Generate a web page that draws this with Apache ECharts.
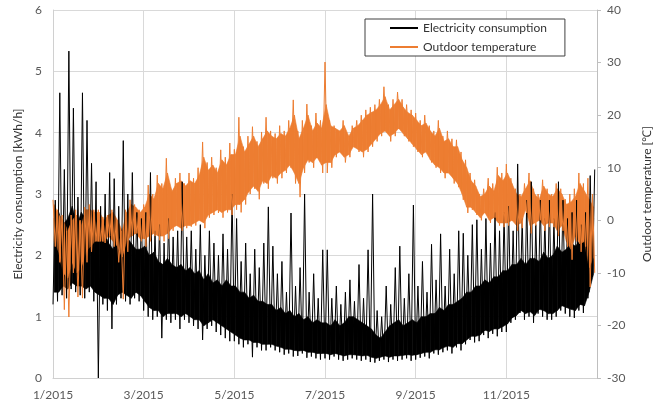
<!DOCTYPE html>
<html>
<head>
<meta charset="utf-8">
<script src="https://cdn.jsdelivr.net/npm/echarts@6/dist/echarts.min.js"></script>
<style>
  html, body { margin: 0; padding: 0; background: #fff; }
  #chart { width: 669px; height: 408px; }
</style>
</head>
<body>
<div id="chart"></div>
<script>
// values, 10 samples per month (Jan..Dec)
// lo/hi = extreme readings in the sample, base/body = edges of the dense part
var elecLo = [
  1.2, 1.25, 1.35, 1.3, 1.45, 1.4, 1.35, 1.3, 1.4, 1.25,
  0.0, 1.2, 1.1, 0.8, 1.2, 1.3, 1.25, 1.2, 1.3, 1.25,
  1.1, 1.0, 0.95, 1.0, 0.65, 0.95, 0.9, 0.95, 0.8, 0.95,
  0.9, 0.85, 0.8, 0.62, 0.8, 0.85, 0.75, 0.7, 0.65, 0.6,
  0.6, 0.55, 0.5, 0.55, 0.34, 0.5, 0.45, 0.45, 0.5, 0.45,
  0.42, 0.38, 0.4, 0.35, 0.36, 0.4, 0.33, 0.35, 0.32, 0.3,
  0.32, 0.3, 0.35, 0.3, 0.28, 0.3, 0.32, 0.3, 0.28, 0.3,
  0.26, 0.25, 0.28, 0.3, 0.26, 0.3, 0.28, 0.3, 0.32, 0.28,
  0.3, 0.33, 0.35, 0.32, 0.4, 0.38, 0.42, 0.45, 0.4, 0.5,
  0.45, 0.55, 0.62, 0.58, 0.6, 0.7, 0.65, 0.72, 0.68, 0.75,
  0.75, 0.9, 0.95, 1.06, 0.95, 1.0, 0.9, 1.05, 1.0, 0.95,
  0.95, 1.0, 1.1, 1.05, 1.0, 0.98, 1.1, 1.06, 1.3, 1.65
];
var elecHi = [
  2.9, 4.65, 3.4, 5.33, 4.4, 2.95, 4.65, 4.2, 3.5, 3.2,
  2.8, 3.0, 3.35, 3.25, 2.8, 3.87, 3.0, 3.35, 2.7, 2.6,
  2.7, 3.35, 2.4, 2.5, 2.2, 2.6, 2.3, 2.4, 3.2, 2.3,
  2.4, 2.1, 2.5, 2.0, 2.4, 2.2, 2.0, 2.35, 2.1, 3.0,
  2.6, 1.9, 2.2, 1.7, 2.1, 1.8, 2.2, 2.79, 2.15, 1.7,
  1.9, 1.4, 2.69, 1.5, 1.8, 3.0, 1.4, 1.7, 1.3, 2.09,
  2.09, 1.3, 1.5, 1.2, 1.4, 1.6, 1.25, 1.85, 1.3, 2.09,
  3.0, 1.1, 1.0, 1.5, 1.2, 1.8, 2.15, 1.3, 1.7, 2.82,
  1.5, 1.9, 1.4, 2.18, 1.6, 2.35, 1.5, 2.1, 1.7, 2.4,
  2.36, 2.0, 2.5, 2.58, 2.1, 2.6, 2.2, 2.7, 2.4, 2.7,
  2.8, 2.4, 3.49, 2.6, 2.9, 3.2, 2.5, 2.9, 2.6, 2.9,
  2.6, 3.2, 2.9, 2.6, 2.7, 2.9, 2.5, 2.7, 3.3, 3.4
];
var elecBase = [
  1.4, 1.4, 1.5, 1.45, 1.55, 1.5, 1.5, 1.45, 1.5, 1.4,
  1.35, 1.3, 1.3, 1.2, 1.35, 1.4, 1.35, 1.3, 1.4, 1.35,
  1.25, 1.15, 1.1, 1.1, 1.0, 1.05, 1.05, 1.05, 1.0, 1.05,
  1.0, 0.95, 0.95, 0.85, 0.9, 0.95, 0.9, 0.85, 0.8, 0.75,
  0.7, 0.65, 0.62, 0.62, 0.58, 0.58, 0.55, 0.55, 0.55, 0.52,
  0.5, 0.47, 0.47, 0.45, 0.44, 0.45, 0.42, 0.42, 0.4, 0.4,
  0.4, 0.38, 0.4, 0.38, 0.36, 0.38, 0.38, 0.37, 0.36, 0.37,
  0.34, 0.32, 0.34, 0.36, 0.34, 0.36, 0.36, 0.37, 0.38, 0.37,
  0.38, 0.4, 0.42, 0.42, 0.46, 0.46, 0.5, 0.52, 0.5, 0.56,
  0.56, 0.62, 0.68, 0.68, 0.7, 0.78, 0.76, 0.8, 0.8, 0.84,
  0.88, 0.98, 1.02, 1.1, 1.05, 1.08, 1.02, 1.12, 1.1, 1.05,
  1.05, 1.1, 1.18, 1.15, 1.12, 1.1, 1.2, 1.18, 1.4, 1.7
];
var elecBody = [
  2.6, 2.7, 2.5, 2.6, 2.8, 2.5, 2.7, 2.6, 2.5, 2.4,
  2.3, 2.4, 2.2, 2.1, 2.3, 2.4, 2.3, 2.2, 2.1, 2.1,
  2.15, 2.0, 2.05, 1.9, 1.85, 1.95, 1.85, 1.8, 1.85, 1.75,
  1.8, 1.7, 1.75, 1.6, 1.7, 1.55, 1.6, 1.5, 1.6, 1.5,
  1.5, 1.4, 1.4, 1.3, 1.35, 1.25, 1.25, 1.2, 1.2, 1.1,
  1.15, 1.05, 1.1, 1.0, 1.05, 0.95, 1.0, 0.9, 0.95, 0.9,
  0.9, 0.85, 0.95, 0.85, 0.9, 1.0, 1.0, 0.95, 0.9, 0.85,
  0.8, 0.7, 0.65, 0.75, 0.85, 0.9, 0.95, 0.85, 0.9, 0.95,
  0.9, 1.0, 1.0, 1.05, 1.05, 1.15, 1.1, 1.2, 1.2, 1.25,
  1.3, 1.4, 1.4, 1.5, 1.5, 1.6, 1.55, 1.65, 1.65, 1.75,
  1.75, 1.85, 1.85, 1.95, 1.85, 1.95, 1.95, 1.9, 2.05, 1.95,
  2.0, 2.15, 2.05, 2.1, 2.2, 2.15, 2.25, 2.25, 2.4, 2.6
];
var tempLo = [
  -5, -8, -17, -18.4, -10, -14.6, -14.8, -8, -6, -4,
  -4, -4.3, -3, -5, -8, -15, -6, -3, -2.5, -4,
  -5, -4, -3, -3.8, -4, -3.5, -2, -1, -2, -1.5,
  -1.2, -1, 0, -1.5, 0.5, 1, 1.4, 0.5, 1.5, 1,
  2, 1.5, 3, 5, 6, 4, 7, 6, 8, 7,
  8, 9, 10, 7, 4.4, 9, 11, 10, 12, 9,
  9, 10, 12, 13, 11, 12, 14, 13, 12, 13,
  14, 15, 16, 17, 15, 16, 17.8, 16, 15, 14,
  13, 12, 13, 11, 10, 9, 8, 9, 7, 6.3,
  3.9, 1.4, 2, 1, 0, 1.5, -0.5, 0.5, -1, -1.3,
  -1, 0, -2, -1.5, 1.4, -2.5, -1, 0, -2, -1.3,
  -1.3, -3, -2, -5, -7.5, -4, -6, -5, -12.7, -10
];
var tempHi = [
  3.9, 2, 1, -2, 1, 2, 0, 2.5, 3, 2,
  2, 0.6, 1, 2, 0, -2, 2, 3.9, 3, 2,
  3, 6.7, 5, 8.6, 7, 11.8, 6, 8, 9, 7,
  9, 8, 10, 14.9, 11, 12, 10, 13.4, 12, 14.7,
  13.5, 19.6, 14, 16, 17.8, 15, 16.8, 19.6, 17, 16.5,
  18, 17, 19, 22.9, 17, 19, 22.1, 18, 20.4, 19,
  30.1, 19, 18, 17, 19, 16, 18, 19, 20, 21,
  21.5, 22, 23, 25.4, 22, 23, 24.4, 23, 22, 21,
  20.4, 19, 20, 18, 17, 19, 16, 17, 15.5, 15.3,
  13, 11.5, 9, 7.7, 5, 6, 8, 7, 10.1, 9,
  10.7, 8, 6, 5, 7, 9, 6, 5, 7.7, 6,
  5, 7, 6, 4, 5, 6, 9, 7, 8, 5
];
var tempBandLo = [
  -4, -6, -10, -11, -8, -10, -9, -6, -5, -4,
  -4, -4, -3, -4, -5, -7, -4, -3, -2.5, -3.5,
  -3.5, -3, -2.5, -3, -3, -2.5, -1.5, -1, -1.5, -1,
  -1, -0.5, 0, -0.5, 1, 1.5, 2, 1.5, 2, 2,
  3, 3, 4, 5.5, 6.5, 5.5, 7.5, 7, 8.5, 8,
  9, 9.5, 10.5, 9, 7, 10, 11.5, 11, 12, 10.5,
  11, 11, 12.5, 13, 12, 12.5, 14, 13.5, 13, 13.5,
  14.5, 15.5, 16.5, 17, 16, 16.5, 17.5, 16.5, 15.5, 14.5,
  13.5, 12.5, 13, 11.5, 10.5, 10, 9, 9, 8, 7,
  5, 2.5, 2.5, 1.5, 0.5, 1.5, 0, 0.5, -0.5, -0.5,
  -0.5, 0, -1, -0.5, 2, -1, -0.5, 0, -1, -0.5,
  -0.5, -2, -1, -4, -5.5, -3, -4.5, -4, -9, -7
];
var tempBandHi = [
  3, 1, 0, -2, 0, 1, -1, 2, 2, 1.5,
  1.5, 0, 1, 1.5, 0, -2, 1.5, 3, 2.5, 1.5,
  2.5, 5, 4, 7, 6, 9, 5.5, 7, 7.5, 6.5,
  7.5, 7, 8.5, 12, 9.5, 10.5, 9, 11.5, 10.5, 12.5,
  12.5, 16, 13, 14.5, 16, 14, 15.5, 17, 16, 15.5,
  16.5, 16, 17.5, 20, 15.5, 17.5, 20, 17, 18.5, 17.5,
  22, 18, 17.5, 17, 18, 16, 17.5, 18, 19, 20,
  20.5, 21, 22, 23.5, 21, 22, 23, 21.5, 20.5, 20,
  19, 18, 18.5, 17, 16, 17.5, 15, 15.5, 14, 14,
  11.5, 10, 7.5, 6.5, 4.5, 5, 6.5, 5.5, 8.5, 7.5,
  9, 7, 5, 4.5, 6, 7.5, 5, 4, 6.5, 5,
  4.5, 6, 5, 3, 3.5, 4.5, 7, 5.5, 4, 2.5
];
var monthLabels = ['1/2015', '3/2015', '5/2015', '7/2015', '9/2015', '11/2015'];
var perMonth = 10;

// x is in months from 1/2015 (Excel spaces the months evenly)
function zigzag(first, second) {
  var out = [];
  for (var k = 0; k < first.length; k++) {
    var x = k / perMonth;
    out.push([x, first[k]]);
    out.push([x + 0.5 / perMonth, second[k]]);
  }
  return out;
}
// one quad per pair of neighbouring samples: [x, lo, hi, xNext, loNext, hiNext]
function bandData(lo, hi) {
  var out = [];
  for (var k = 0; k < lo.length - 1; k++) {
    out.push([(k + 0.25) / perMonth, lo[k], hi[k], (k + 1.25) / perMonth, lo[k + 1], hi[k + 1]]);
  }
  return out;
}
function bandRender(color) {
  return function (params, api) {
    var a = api.coord([api.value(0), api.value(1)]);
    var b = api.coord([api.value(0), api.value(2)]);
    var c = api.coord([api.value(3), api.value(5)]);
    var d = api.coord([api.value(3), api.value(4)]);
    return {
      type: 'polygon',
      shape: { points: [a, b, c, d] },
      style: { fill: color, stroke: color, lineWidth: 0.6 }
    };
  };
}

var chartDom = document.getElementById('chart');
var myChart = echarts.init(chartDom);
var font = 'Lato, "Open Sans", sans-serif';
var orange = '#ED7D31';

var option = {
  animation: false,
  textStyle: { fontFamily: font },
  grid: { left: 53, right: 72, top: 10, bottom: 30 },
  legend: {
    orient: 'vertical',
    left: 365,
    top: 19,
    padding: [3, 18, 3, 24],
    itemWidth: 28,
    itemHeight: 14,
    itemGap: 7,
    borderColor: '#404040',
    borderWidth: 1,
    backgroundColor: '#fff',
    itemStyle: { opacity: 0 },
    textStyle: { fontFamily: font, fontSize: 12, color: '#333' },
    data: ['Electricity consumption', 'Outdoor temperature']
  },
  xAxis: {
    type: 'value',
    min: 0,
    max: 12,
    interval: 2,
    axisLine: { lineStyle: { color: '#d0d0d0' } },
    axisTick: { show: false },
    splitLine: { lineStyle: { color: '#d9d9d9' } },
    axisLabel: {
      margin: 11,
      fontSize: 12,
      color: '#595959',
      showMaxLabel: false,
      formatter: function (v) { return monthLabels[v / 2] || ''; }
    }
  },
  yAxis: [
    {
      type: 'value',
      min: 0,
      max: 6,
      interval: 1,
      name: 'Electricity consumption [kWh/h]',
      nameLocation: 'middle',
      nameGap: 28,
      nameTextStyle: { fontFamily: font, fontSize: 12, color: '#333' },
      axisLine: { show: true, lineStyle: { color: '#d0d0d0' } },
      axisTick: { show: false },
      splitLine: { lineStyle: { color: '#d9d9d9' } },
      axisLabel: { margin: 11, fontSize: 12, color: '#595959' }
    },
    {
      type: 'value',
      min: -30,
      max: 40,
      interval: 10,
      position: 'right',
      name: 'Outdoor temperature [\u2103]',
      nameLocation: 'middle',
      nameGap: 44,
      nameRotate: 90,
      nameTextStyle: { fontFamily: font, fontSize: 12, color: '#333' },
      axisLine: { show: true, lineStyle: { color: '#bfbfbf' } },
      axisTick: { show: true, length: 4, lineStyle: { color: '#bfbfbf' } },
      splitLine: { show: false },
      axisLabel: { margin: 10, fontSize: 12, color: '#595959' }
    }
  ],
  series: [
    {
      name: 'elecBand',
      type: 'custom',
      yAxisIndex: 0,
      silent: true,
      renderItem: bandRender('#000'),
      encode: { x: [0, 3], y: [1, 2, 4, 5] },
      data: bandData(elecBase, elecBody)
    },
    {
      name: 'Electricity consumption',
      type: 'line',
      yAxisIndex: 0,
      symbol: 'none',
      color: '#000',
      lineStyle: { width: 1, color: '#000' },
      data: zigzag(elecLo, elecHi)
    },
    {
      name: 'tempBand',
      type: 'custom',
      yAxisIndex: 1,
      silent: true,
      renderItem: bandRender(orange),
      encode: { x: [0, 3], y: [1, 2, 4, 5] },
      data: bandData(tempBandLo, tempBandHi)
    },
    {
      name: 'Outdoor temperature',
      type: 'line',
      yAxisIndex: 1,
      symbol: 'none',
      color: orange,
      lineStyle: { width: 1, color: orange },
      data: zigzag(tempHi, tempLo)
    }
  ]
};

myChart.setOption(option);
</script>
</body>
</html>
